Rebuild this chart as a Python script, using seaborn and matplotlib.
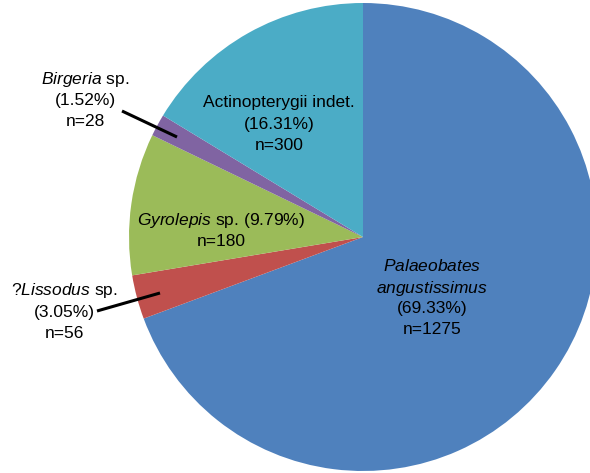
import matplotlib
matplotlib.use("Agg")
import matplotlib.pyplot as plt
import seaborn as sns

sns.set_theme(style="white")
plt.rcParams['font.family'] = ['Liberation Sans', 'DejaVu Sans']
plt.rcParams['mathtext.fontset'] = 'custom'
plt.rcParams['mathtext.rm'] = 'Liberation Sans'
plt.rcParams['mathtext.it'] = 'Liberation Sans:italic'

taxa = ["Palaeobates angustissimus", "?Lissodus sp.", "Gyrolepis sp.",
        "Birgeria sp.", "Actinopterygii indet."]
counts = [1275, 56, 180, 28, 300]
percents = ["69.33%", "3.05%", "9.79%", "1.52%", "16.31%"]
colors = ["#4F81BD", "#C0504D", "#9BBB59", "#8064A2", "#4BACC6"]

W, H = 590, 473
fig = plt.figure(figsize=(W / 100, H / 100), dpi=100)
ax = fig.add_axes([0, 0, 1, 1])

cx, cy, r = 363, H - 237, 234
ax.pie(counts, colors=colors, startangle=90, counterclock=False,
       center=(cx, cy), radius=r, frame=True,
       wedgeprops=dict(linewidth=0))
ax.set_xlim(0, W)
ax.set_ylim(0, H)
ax.set_aspect('equal')
ax.axis('off')

fs = 12.5
def txt(x, y, s):
    ax.text(x, H - y, s, ha='center', va='center', fontsize=fs, color='black')

# Palaeobates
txt(432, 266, r"$\mathit{Palaeobates}$")
txt(432, 288, r"$\mathit{angustissimus}$")
txt(432, 309, f"({percents[0]})")
txt(432, 330, f"n={counts[0]}")

# Actinopterygii
txt(279, 103, taxa[4])
txt(279, 124, f"({percents[4]})")
txt(279, 145, f"n={counts[4]}")

# Gyrolepis
txt(221, 221, r"$\mathit{Gyrolepis}$ sp. (" + percents[2] + ")")
txt(221, 242, f"n={counts[2]}")

# Birgeria
txt(85, 80, r"$\mathit{Birgeria}$ sp.")
txt(85, 101, f"({percents[3]})")
txt(85, 122, f"n={counts[3]}")
ax.plot([122, 177], [H - 111, H - 137], color='black', lw=2.2, solid_capstyle='butt')

# Lissodus
txt(64, 291, r"?$\mathit{Lissodus}$ sp.")
txt(64, 312, f"({percents[1]})")
txt(64, 333, f"n={counts[1]}")
ax.plot([97, 160], [H - 311, H - 293], color='black', lw=2.2, solid_capstyle='butt')

fig.savefig("out.png", dpi=100, facecolor='white')
